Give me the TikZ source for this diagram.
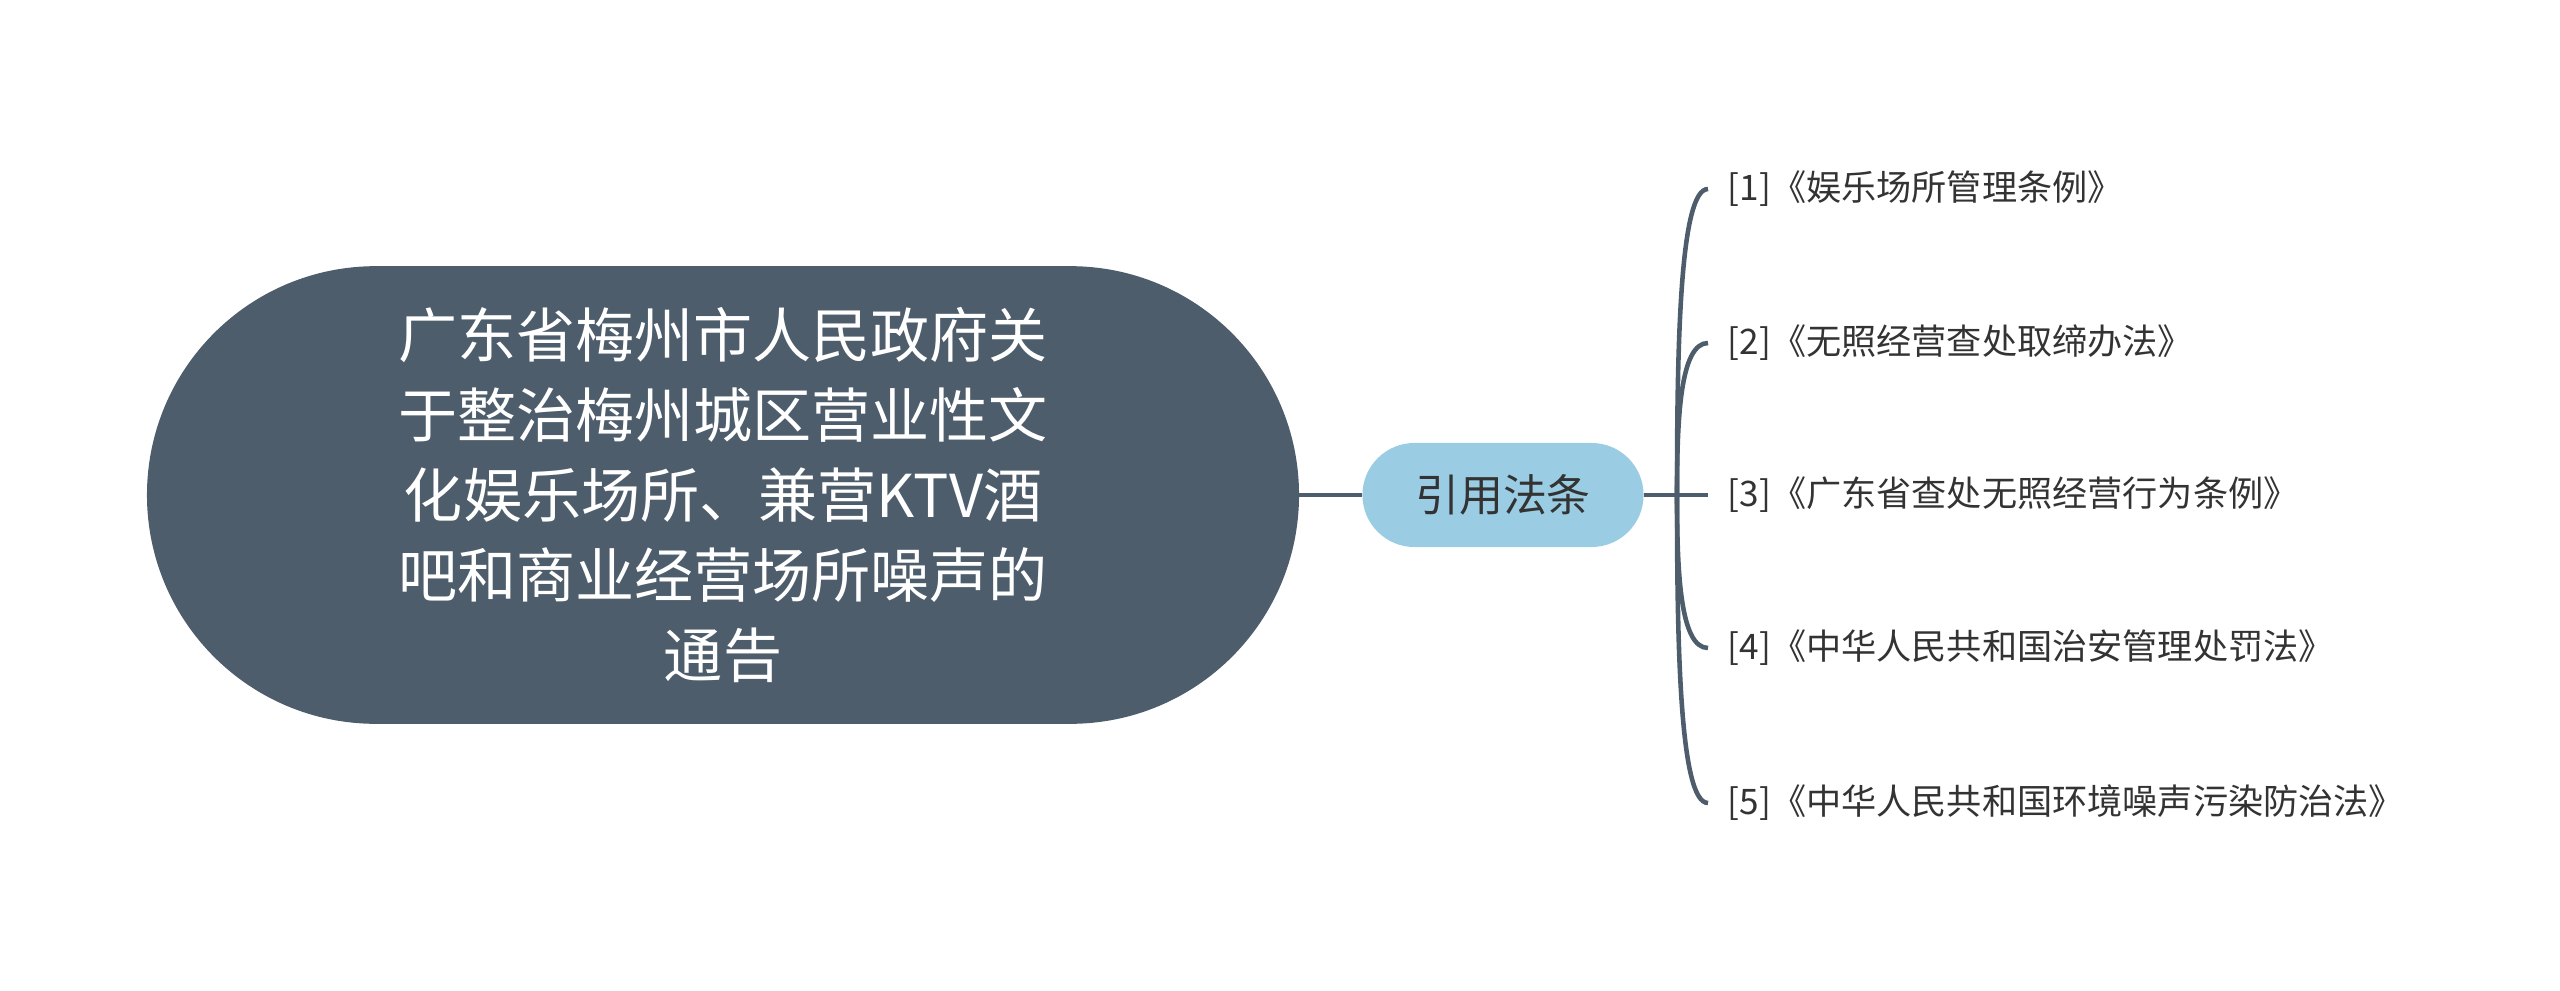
\documentclass[tikz,border=0pt]{standalone}
\usepackage{fontspec}
\setmainfont{Noto Sans CJK SC}
\usetikzlibrary{positioning}
\definecolor{slatec}{HTML}{4D5D6B}
\definecolor{skyc}{HTML}{9ACDE3}
\definecolor{inkc}{HTML}{333333}

\begin{document}
\begin{tikzpicture}[x=0.01cm, y=-0.01cm,
  topic/.style={fill=slatec, draw=slatec, text=white, rounded corners=2.28cm,
    minimum width=11.5cm, minimum height=4.56cm, align=center,
    font=\fontsize{16.8}{22.8}\selectfont},
  sub/.style={fill=skyc, rounded corners=0.52cm, minimum width=2.81cm,
    minimum height=1.04cm, text=inkc, font=\fontsize{12.5}{15}\selectfont},
  leaf/.style={anchor=west, text=inkc, inner xsep=0.19cm, inner ysep=0pt,
    font=\fontsize{10}{12}\selectfont},
  link/.style={slatec, line width=1.3pt}]

\useasboundingbox (0,0) rectangle (2560,991);

\node[topic] (root) at (723,495)
  {广东省梅州市人民政府关\\于整治梅州城区营业性文\\化娱乐场所、兼营KTV酒\\吧和商业经营场所噪声的\\通告};
\node[sub] (cite) at (1503,495) {引用法条};
\coordinate (fork) at (1677,495);

\node[leaf] (law1) at (1708,189) {[1]《娱乐场所管理条例》};
\node[leaf] (law2) at (1708,343) {[2]《无照经营查处取缔办法》};
\node[leaf] (law3) at (1708,495) {[3]《广东省查处无照经营行为条例》};
\node[leaf] (law4) at (1708,648) {[4]《中华人民共和国治安管理处罚法》};
\node[leaf] (law5) at (1708,803) {[5]《中华人民共和国环境噪声污染防治法》};

\draw[link] (root) -- (cite);
\draw[link] (cite) -- (law3);
\foreach \n/\y in {1/189,2/343,4/648,5/803}
  \draw[link] (fork) .. controls (1677,{(495+\y)/2}) and (1680,\y) .. (law\n.west);
\end{tikzpicture}
\end{document}
